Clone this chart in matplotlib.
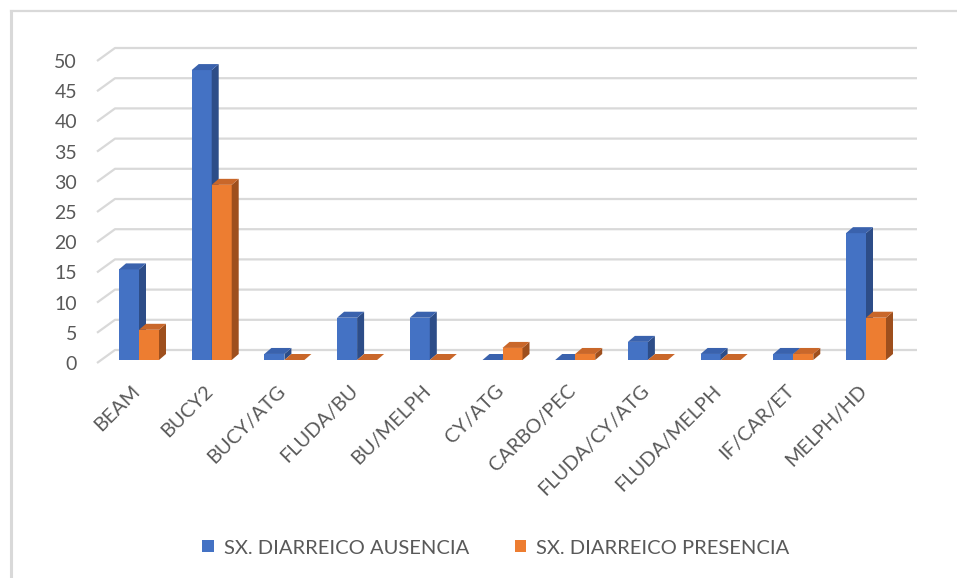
import numpy as np
import matplotlib
matplotlib.use("Agg")
import matplotlib.pyplot as plt
from matplotlib.patches import Polygon, Patch
from matplotlib.lines import Line2D

categories = ["BEAM", "BUCY2", "BUCY/ATG", "FLUDA/BU", "BU/MELPH", "CY/ATG",
              "CARBO/PEC", "FLUDA/CY/ATG", "FLUDA/MELPH", "IF/CAR/ET", "MELPH/HD"]
ausencia = [15, 48, 1, 7, 7, 0, 0, 3, 1, 1, 21]
presencia = [5, 29, 0, 0, 0, 2, 1, 0, 0, 1, 7]
series_names = ["SX. DIARREICO AUSENCIA", "SX. DIARREICO PRESENCIA"]
yticks = list(range(0, 51, 5))

plt.rcParams["font.family"] = ["Lato", "DejaVu Sans"]
TXT = "#595959"
GRID = "#d9d9d9"
# front / top / side shades per series
SHADES = [("#4472c4", "#3a62ad", "#2d4d88"),
          ("#ed7d31", "#c9672a", "#9e4f1d")]

W, H = 957, 578
fig = plt.figure(figsize=(W / 100, H / 100), dpi=100)

# layout in pixels: bar plane, category spacing
X0, X1 = 97, 917
Y0, Y50 = 360, 58
CAT0, STEP = 139, 72.7
ax = fig.add_axes([X0 / W, 1 - Y0 / H, (X1 - X0) / W, (Y0 - Y50) / H])
ax.set_xlim((X0 - CAT0) / STEP, (X1 - CAT0) / STEP)
ax.set_ylim(0, 50)
ax.axis("off")

def px_x(p):
    return (p - CAT0) / STEP

def px_h(p):
    return p * 50 / (Y0 - Y50)

# back wall gridlines with the slanted floor edge on the left
for v in yticks:
    ax.plot([px_x(97), px_x(115), px_x(917)],
            [v - px_h(3), v + px_h(10), v + px_h(10)],
            color=GRID, lw=1.6, clip_on=False, zorder=1, solid_capstyle="butt")
    ax.text(px_x(77), v - px_h(4.5), str(v), ha="right", va="center",
            fontsize=14, color=TXT, clip_on=False)

x = np.arange(len(categories))
bw = 20 / STEP
dx, dy = 7 / STEP, px_h(6)
for k, (vals, (cf, ct, cs)) in enumerate(zip([ausencia, presencia], SHADES)):
    left = x - bw + k * bw
    ax.bar(left, vals, width=bw, align="edge", color=cf, lw=0,
           zorder=2 + k, clip_on=False)
    for xl, h in zip(left, vals):
        top = [(xl, h), (xl + bw, h), (xl + bw + dx, h + dy), (xl + dx, h + dy)]
        side = [(xl + bw, 0), (xl + bw + dx, dy), (xl + bw + dx, h + dy), (xl + bw, h)]
        ax.add_patch(Polygon(side, closed=True, fc=cs, ec="none", zorder=2 + k, clip_on=False))
        ax.add_patch(Polygon(top, closed=True, fc=ct, ec="none", zorder=2 + k, clip_on=False))

# rotated category labels
for i, name in enumerate(categories):
    ax.text(i - 2 / STEP, -px_h(28), name, rotation=45, rotation_mode="anchor",
            ha="right", va="center", fontsize=14.3, color=TXT, clip_on=False)

handles = [Patch(fc=SHADES[0][0]), Patch(fc=SHADES[1][0])]
fig.legend(handles, series_names, loc="center", ncol=2, frameon=False,
           bbox_to_anchor=(496 / W, 1 - 548 / H), fontsize=14.5,
           handlelength=0.55, handleheight=0.55, handletextpad=0.5,
           columnspacing=2.3, labelcolor=TXT)

# chart area border (left and top edges)
fig.add_artist(Line2D([10.5 / W, 10.5 / W], [0, 1 - 11 / H], color=GRID, lw=2.2))
fig.add_artist(Line2D([10.5 / W, 1], [1 - 11 / H, 1 - 11 / H], color=GRID, lw=1.6))

fig.savefig("out.png", dpi=100)
